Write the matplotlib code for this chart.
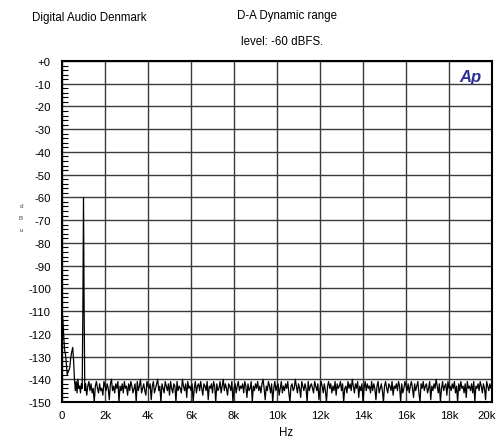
import matplotlib
matplotlib.use("Agg")
import matplotlib.pyplot as plt
import matplotlib.transforms as mtransforms
import numpy as np

plt.rcParams["font.family"] = ["Liberation Sans", "DejaVu Sans"]

# low-frequency part of the spectrum (Hz, dB)
low_freq = [0, 40, 80, 120, 160, 200, 240, 280, 320, 360, 400, 450, 500,
            540, 580, 620, 660, 700, 740, 780, 820, 860, 900, 940, 970,
            1000, 1030, 1060, 1100, 1150]
low_level = [-110, -114, -121, -127, -129, -133, -138, -137, -136, -135,
             -131, -128, -126, -132, -140, -145, -141, -146, -140, -144,
             -143, -146, -142, -144, -110, -60, -110, -145, -142, -147]

# noise floor, 1.2 kHz to 20 kHz in 50 Hz steps
floor_start = 1200
floor_step = 50
floor_level = [
    -143, -141, -145, -142, -146, -144, -150, -143, -141, -144, -146, -142, -145,
    -144, -147, -141, -143, -145, -142, -144, -149, -142, -140, -145, -143, -146,
    -142, -144, -141, -150, -143, -145, -142, -146, -141, -144, -143, -147, -142,
    -145, -141, -143, -146, -144, -142, -150, -141, -145, -143, -140, -146, -144,
    -142, -145, -147, -141, -143, -144, -142, -149, -143, -141, -146, -144, -142,
    -140, -145, -143, -150, -142, -144, -146, -141, -143, -145, -142, -147, -141,
    -144, -146, -142, -143, -150, -141, -145, -143, -144, -146, -140, -143, -145,
    -142, -148, -141, -144, -143, -145, -142, -150, -144, -141, -146, -143, -142,
    -145, -141, -144, -147, -142, -143, -145, -141, -149, -143, -144, -142, -146,
    -141, -143, -150, -142, -145, -144, -141, -146, -143, -140, -145, -142, -144,
    -147, -142, -143, -145, -141, -150, -144, -142, -146, -143, -141, -145, -143,
    -144, -142, -146, -141, -143, -148, -142, -145, -144, -141, -150, -143, -145,
    -142, -144, -141, -145, -143, -146, -142, -140, -144, -149, -143, -145, -141,
    -143, -146, -142, -150, -144, -141, -145, -143, -142, -147, -144, -141, -146,
    -143, -145, -142, -144, -141, -146, -150, -143, -142, -145, -144, -140, -143,
    -146, -142, -144, -148, -141, -143, -145, -142, -144, -150, -141, -145, -143,
    -142, -144, -146, -141, -143, -145, -142, -149, -144, -141, -143, -146, -142,
    -145, -150, -143, -141, -144, -142, -146, -143, -145, -141, -147, -142, -144,
    -143, -141, -145, -142, -150, -144, -143, -146, -141, -144, -142, -145, -140,
    -143, -146, -142, -144, -141, -148, -143, -145, -142, -150, -144, -141, -145,
    -142, -144, -143, -146, -141, -145, -142, -144, -149, -143, -141, -146, -144,
    -142, -145, -150, -143, -141, -144, -146, -142, -143, -145, -141, -147, -143,
    -144, -142, -145, -141, -143, -150, -142, -146, -144, -141, -143, -145, -142,
    -146, -143, -141, -144, -148, -142, -145, -143, -141, -146, -150, -142, -144,
    -141, -145, -143, -142, -146, -144, -141, -149, -143, -145, -142, -144, -140,
    -143, -146, -142, -150, -144, -141, -145, -143, -142, -147, -141, -144, -143,
    -145, -142, -144, -141, -146, -143, -150, -142, -145, -141, -144, -143, -146,
    -142, -148, -141, -144, -143, -145, -142, -146, -141, -150, -143, -144, -142,
    -145, -141, -143, -146, -142, -144, -149, -141, -143, -145, -142, -144, -143,
]

x_ticks = [0, 2000, 4000, 6000, 8000, 10000, 12000, 14000, 16000, 18000, 20000]
x_labels = ["0", "2k", "4k", "6k", "8k", "10k", "12k", "14k", "16k", "18k", "20k"]
y_ticks = list(range(0, -151, -10))
y_labels = ["+0"] + [str(v) for v in y_ticks[1:]]

floor_freq = floor_start + floor_step * np.arange(len(floor_level))
freq = np.concatenate([low_freq, floor_freq])
level = np.concatenate([low_level, floor_level])

fig = plt.figure(figsize=(4.98, 4.39), dpi=100)
ax = fig.add_axes([0.1245, 0.082, 0.8635, 0.7768])

ax.plot(freq, level, color="black", linewidth=0.9)

ax.set_xlim(0, 20000)
ax.set_ylim(-150, 0)
ax.set_xticks(x_ticks)
ax.set_xticklabels(x_labels)
ax.set_yticks(y_ticks)
ax.set_yticklabels(y_labels)
ax.set_yticks(np.arange(-150, 1, 2), minor=True)

ax.grid(True, color="#3a3a3a", linewidth=1.0)
ax.tick_params(axis="x", which="major", length=0, labelsize=8.2, pad=6)
ax.tick_params(axis="y", which="major", length=0, labelsize=8.2, pad=8)
ax.tick_params(axis="y", which="minor", direction="in", length=4,
               width=0.8, color="black")
ax.tick_params(axis="x", which="minor", length=0)
for spine in ax.spines.values():
    spine.set_linewidth(1.5)
    spine.set_color("black")

# pull the last x label inside the figure
last = ax.get_xticklabels()[-1]
last.set_transform(last.get_transform()
                   + mtransforms.ScaledTranslation(-5 / 100, 0,
                                                   fig.dpi_scale_trans))

fig.text(32 / 498, 1 - 18 / 439, "Digital Audio Denmark", fontsize=8.3,
         ha="left", va="center")
fig.text(237 / 498, 1 - 16 / 439, "D-A Dynamic range", fontsize=8.3,
         ha="left", va="center")
fig.text(241 / 498, 1 - 42 / 439, "level: -60 dBFS.", fontsize=8.3,
         ha="left", va="center")
fig.text(286 / 498, 1 - 433 / 439, "Hz", fontsize=8.3, ha="center",
         va="center")
for i, ch in enumerate("dBu"):
    fig.text(21 / 498, 1 - (207 + 12 * i) / 439, ch, fontsize=4.5,
             ha="center", va="center", color="#444444")

ax.text(0.975, 0.955, "Ap", transform=ax.transAxes, fontsize=12,
        fontweight="bold", fontstyle="italic", color="#2e3192",
        ha="right", va="center")

fig.savefig("out.png", dpi=100)
